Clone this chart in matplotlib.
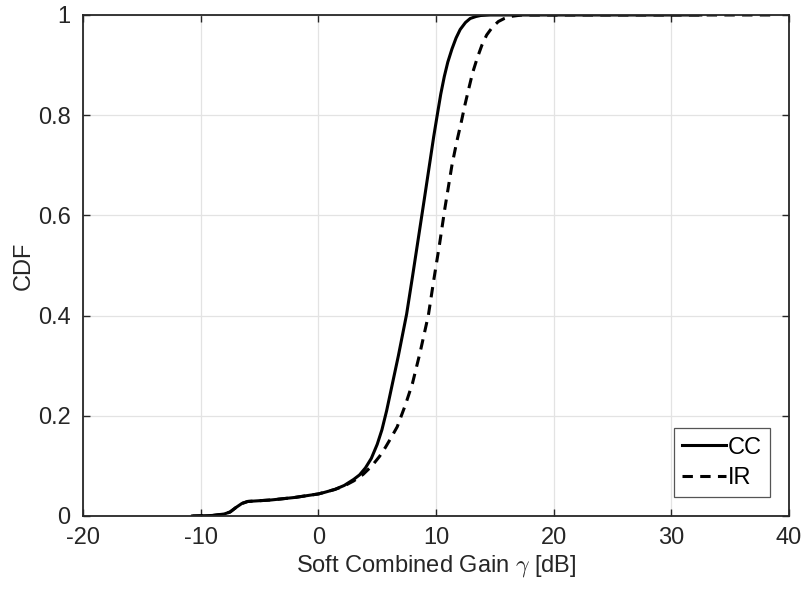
import matplotlib.pyplot as plt

# =============================================================================
# DATOS: CDF de la ganancia combinada (CC vs IR)
# =============================================================================
cc_gain_db = [-10.7, -9.0, -8.0, -7.5, -7.0, -6.5, -6.0, -4.0, -2.0, 0.0,
              0.5, 1.4, 2.2, 3.0, 3.5, 4.0, 4.5, 5.0, 5.4, 5.8, 6.1, 6.8, 7.5, 8.0, 8.5,
              9.0, 9.5, 9.8, 10.1, 10.4, 10.7, 11.0, 11.35, 11.7, 12.05, 12.5, 12.9,
              13.4, 13.8, 14.6, 32.5]
cc_cdf = [0.0, 0.001, 0.004, 0.008, 0.017, 0.025, 0.029, 0.032, 0.037, 0.044,
          0.047, 0.053, 0.061, 0.073, 0.082, 0.096, 0.115, 0.143, 0.172, 0.21, 0.243,
          0.32, 0.403, 0.478, 0.555, 0.632, 0.71, 0.757, 0.80, 0.842, 0.877, 0.906,
          0.932, 0.954, 0.971, 0.985, 0.993, 0.997, 0.999, 1.0, 1.0]

ir_gain_db = [-10.7, -9.0, -8.0, -7.5, -7.0, -6.5, -6.0, -4.0, -2.0, 0.0,
              1.4, 2.2, 3.0, 3.8, 4.55, 5.2, 5.7, 6.2, 6.7, 7.4, 8.0, 8.65, 9.35, 9.8,
              10.3, 10.75, 11.35, 11.75, 12.15, 12.45, 12.75, 13.1, 13.5, 13.9, 14.3,
              14.8, 15.3, 15.8, 16.3, 17.3, 38.5]
ir_cdf = [0.0, 0.001, 0.004, 0.008, 0.017, 0.025, 0.029, 0.032, 0.037, 0.044,
          0.053, 0.060, 0.070, 0.083, 0.100, 0.119, 0.137, 0.157, 0.178, 0.222, 0.265,
          0.327, 0.401, 0.47, 0.543, 0.614, 0.70, 0.746, 0.787, 0.82, 0.85, 0.884,
          0.914, 0.94, 0.96, 0.976, 0.987, 0.993, 0.997, 1.0, 1.0]

x_ticks = [-20, -10, 0, 10, 20, 30, 40]
y_ticks = [0, 0.2, 0.4, 0.6, 0.8, 1]
y_tick_labels = ["0", "0.2", "0.4", "0.6", "0.8", "1"]

# =============================================================================
# ESTILO
# =============================================================================
plt.rcParams['font.family'] = ['Liberation Sans', 'DejaVu Sans']
plt.rcParams['mathtext.fontset'] = 'cm'
plt.rcParams['axes.unicode_minus'] = False
FS = 17
EDGE = '#262626'

fig = plt.figure(figsize=(8.06, 5.92), dpi=100)
ax = fig.add_axes([0.103, 0.1284, 0.876, 0.8463])

ax.plot(cc_gain_db, cc_cdf, color='k', lw=2.2, label='CC')
ax.plot(ir_gain_db, ir_cdf, color='k', lw=2.2, ls=(0, (3.4, 2.4)), label='IR')

ax.set_xlim(-20, 40)
ax.set_ylim(0, 1)
ax.set_xticks(x_ticks)
ax.set_yticks(y_ticks)
ax.set_yticklabels(y_tick_labels)

ax.grid(True, color='#e3e3e3', lw=0.9)
ax.set_axisbelow(True)
for s in ax.spines.values():
    s.set_color(EDGE)
    s.set_linewidth(1.3)
ax.tick_params(direction='in', top=True, right=True, length=5, width=1.0,
               color=EDGE, labelsize=FS, labelcolor=EDGE)
ax.tick_params(axis='x', pad=8)
ax.tick_params(axis='y', pad=9)

ax.set_xlabel(r'Soft Combined Gain $\gamma$ [dB]', fontsize=FS, color=EDGE, labelpad=3)
ax.set_ylabel('CDF', fontsize=FS, color=EDGE, labelpad=2)

leg = ax.legend(loc='lower right', fontsize=FS, fancybox=False, framealpha=1,
                edgecolor='#555555', handlelength=1.85, handletextpad=0.1,
                borderpad=0.35, labelspacing=0.35, borderaxespad=0.8)
leg.get_frame().set_linewidth(0.9)

fig.savefig('out.png', dpi=100)
